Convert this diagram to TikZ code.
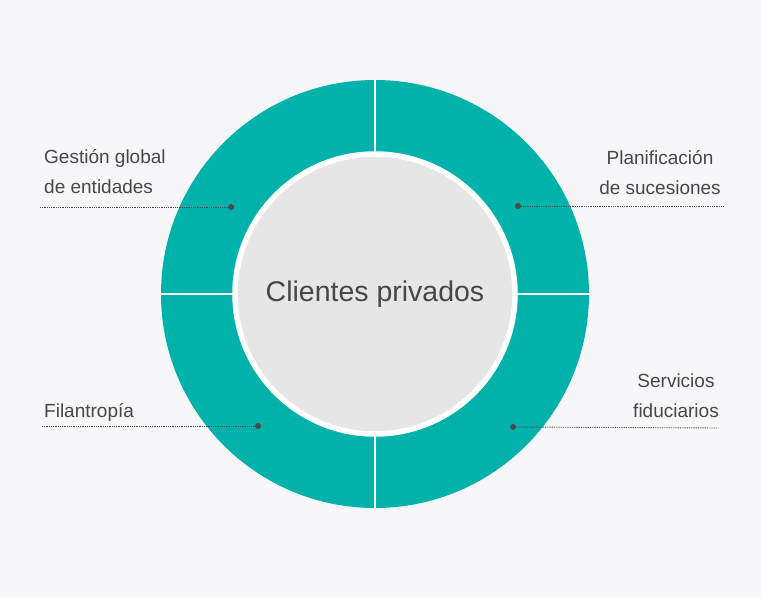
\documentclass[tikz,border=0pt]{standalone}
\usepackage{fontspec}
\setmainfont{Liberation Sans}

\definecolor{bggrey}{HTML}{F7F7F9}
\definecolor{ringteal}{HTML}{00B2A9}
\definecolor{coregrey}{HTML}{E6E6E6}
\definecolor{textgrey}{HTML}{474747}
\definecolor{linegrey}{HTML}{4A4A4A}

\tikzstyle{ring} = [fill=ringteal]
\tikzstyle{divider} = [draw=white, line width=1.5pt]
\tikzstyle{core} = [circle, fill=coregrey, draw=white, line width=5.5pt, minimum size=280pt, inner sep=0pt, text=textgrey, font=\fontsize{28.5}{34}\selectfont]
\tikzstyle{dot} = [circle, fill=linegrey, inner sep=0pt, minimum size=6pt]
\tikzstyle{leader} = [draw=linegrey, line width=0.9pt, dash pattern=on 0.9pt off 0.9pt]
\tikzstyle{sectortext} = [text=textgrey, inner sep=0pt, font=\fontsize{19}{29.5}\selectfont]

\begin{document}
\begin{tikzpicture}[x=1pt, y=-1pt]
	\fill[bggrey] (0,0) rectangle (761,597);
	\useasboundingbox (0,0) rectangle (761,597);

	% teal ring with four sectors
	\fill[ring] (375,294) circle (214pt);
	\draw[divider] (375,80) -- (375,508);
	\draw[divider] (161,294) -- (589,294);
	\node[core] (core) at (375,294) {Clientes privados};

	% labels (base = last line)
	\node[sectortext, anchor=base west, align=left] (t1) at (44,193) {Gestión global\\de entidades};
	\node[sectortext, anchor=base, align=center] (t2) at (660,194) {Planificación\\de sucesiones};
	\node[sectortext, anchor=base west] (t3) at (44,417) {Filantropía};
	\node[sectortext, anchor=base, align=center] (t4) at (676,417) {Servicios\\fiduciarios};

	% dots on the ring
	\node[dot] (d1) at (231,207) {};
	\node[dot] (d2) at (518,206) {};
	\node[dot] (d3) at (258,426) {};
	\node[dot] (d4) at (513,427) {};

	% free ends of the leaders
	\coordinate (e1) at (40,207);
	\coordinate (e2) at (724,206);
	\coordinate (e3) at (42,426);
	\coordinate (e4) at (719,428);

	\draw[leader] (e1) -- (d1);
	\draw[leader] (d2) -- (e2);
	\draw[leader] (e3) -- (d3);
	\draw[leader] (d4) -- (e4);
\end{tikzpicture}
\end{document}
